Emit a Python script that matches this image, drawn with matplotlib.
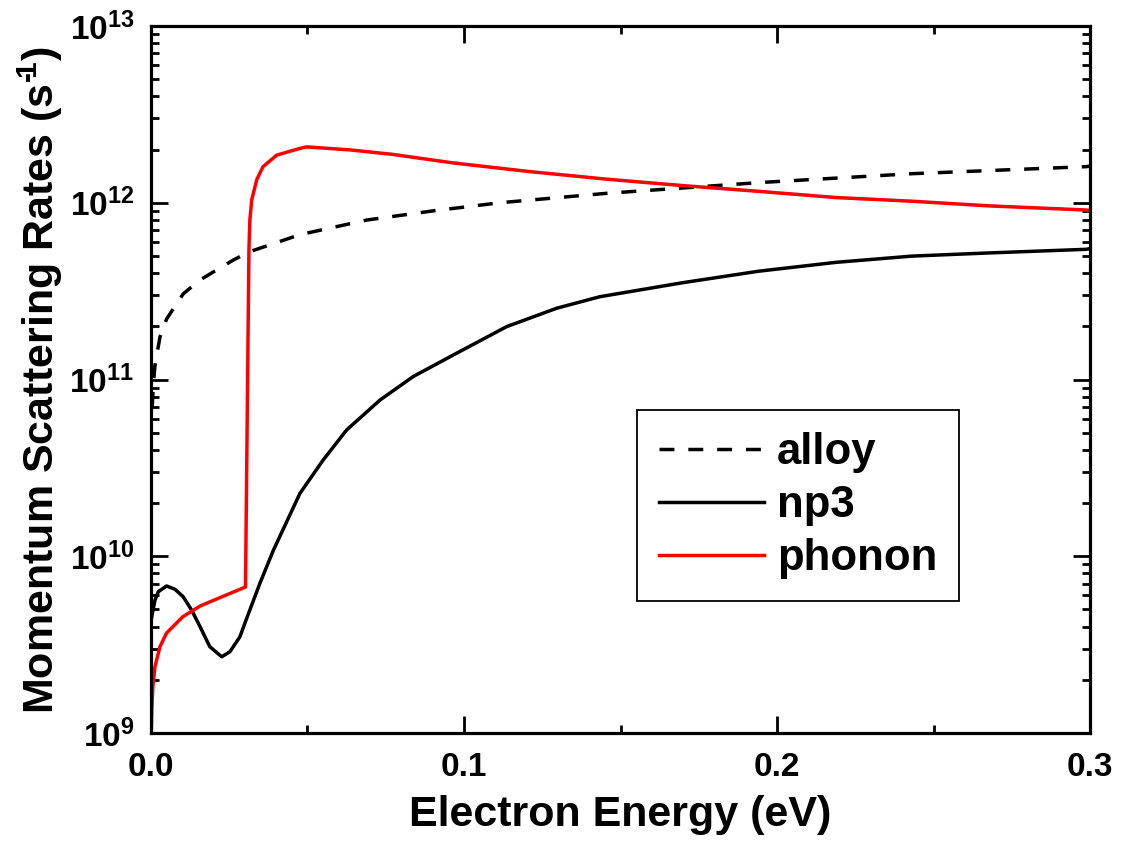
import numpy as np
import matplotlib
matplotlib.use('Agg')
import matplotlib.pyplot as plt
from matplotlib.ticker import MultipleLocator, FixedLocator, FixedFormatter, LogLocator

plt.rcParams['font.family'] = ['Liberation Sans', 'DejaVu Sans']
plt.rcParams['font.weight'] = 'bold'
plt.rcParams['mathtext.default'] = 'regular'

# values (energy in eV, rate in 1/s)
alloy_E = [0.0004, 0.0008, 0.00128, 0.00288, 0.005, 0.0103, 0.0157, 0.0263, 0.0316,
           0.0476, 0.0689, 0.0902, 0.1115, 0.1454, 0.1942, 0.2431, 0.2986, 0.3]
alloy_rate = [7.0e10, 9.5e10, 1.2e11, 1.74e11, 2.2e11, 3.05e11, 3.66e11, 4.74e11, 5.29e11,
              6.6e11, 7.98e11, 9.0e11, 1.0e12, 1.13e12, 1.30e12, 1.46e12, 1.60e12, 1.61e12]

np3_E = [0.0002, 0.00128, 0.00234, 0.005, 0.0077, 0.0103, 0.013, 0.0157, 0.0188, 0.0226,
         0.0252, 0.0263, 0.0284, 0.0306, 0.0348, 0.0391, 0.0476, 0.055, 0.0625, 0.0732,
         0.0838, 0.0977, 0.1136, 0.1296, 0.1434, 0.1699, 0.1942, 0.2188, 0.2431, 0.2677,
         0.2986, 0.3]
np3_rate = [4.5e9, 5.65e9, 6.3e9, 6.79e9, 6.5e9, 5.9e9, 4.96e9, 3.99e9, 3.08e9, 2.7e9,
            2.88e9, 3.08e9, 3.5e9, 4.46e9, 7.03e9, 1.08e10, 2.27e10, 3.5e10, 5.18e10, 7.66e10,
            1.04e11, 1.41e11, 1.99e11, 2.53e11, 2.94e11, 3.53e11, 4.1e11, 4.6e11, 4.99e11, 5.2e11,
            5.45e11, 5.5e11]

phonon_E = [0.0, 0.0003, 0.0006, 0.00128, 0.00288, 0.005, 0.0102, 0.0157, 0.022, 0.0302,
            0.0313, 0.0316, 0.0322, 0.0338, 0.0358, 0.0402, 0.0476, 0.0497, 0.0636, 0.0769,
            0.0965, 0.121, 0.1454, 0.1699, 0.1942, 0.2188, 0.2431, 0.2677, 0.2986, 0.3]
phonon_rate = [8e8, 1.4e9, 1.83e9, 2.37e9, 3.08e9, 3.68e9, 4.55e9, 5.23e9, 5.83e9, 6.7e9,
               5.4e11, 8.0e11, 1.04e12, 1.35e12, 1.6e12, 1.86e12, 2.03e12, 2.07e12, 1.99e12, 1.88e12,
               1.68e12, 1.50e12, 1.36e12, 1.25e12, 1.16e12, 1.07e12, 1.02e12, 9.6e11, 9.1e11, 9.05e11]

x_ticks = [0.0, 0.1, 0.2, 0.3]
x_tick_labels = ['0.0', '0.1', '0.2', '0.3']

fig = plt.figure(figsize=(11.24, 8.49), dpi=100)
ax = fig.add_axes([0.1343, 0.1366, 0.8355, 0.8328])

ax.plot(alloy_E, alloy_rate, color='k', lw=2.5, linestyle=(0, (4.3, 4)), label='alloy')
ax.plot(np3_E, np3_rate, color='k', lw=2.5, label='np3')
ax.plot(phonon_E, phonon_rate, color='#ff0000', lw=2.5, label='phonon')

ax.set_yscale('log')
ax.set_xlim(0, 0.3)
ax.set_ylim(1e9, 1e13)

ax.xaxis.set_major_locator(FixedLocator(x_ticks))
ax.xaxis.set_major_formatter(FixedFormatter(x_tick_labels))
ax.xaxis.set_minor_locator(MultipleLocator(0.05))
ax.yaxis.set_major_locator(LogLocator(base=10, numticks=10))
ax.yaxis.set_minor_locator(LogLocator(base=10, subs=np.arange(2, 10), numticks=20))

ax.tick_params(which='both', direction='in', top=True, right=True, width=2)
ax.tick_params(which='major', length=12, labelsize=24, pad=12)
ax.tick_params(axis='x', which='major', pad=14)
ax.tick_params(which='minor', length=6)
for s in ax.spines.values():
    s.set_linewidth(2.3)

ax.set_xlabel('Electron Energy (eV)', fontsize=31, fontweight='bold', labelpad=8)
ax.set_ylabel('Momentum Scattering Rates (s$^{\u2010\\!1}$)', fontsize=31, fontweight='bold', labelpad=3)

leg = ax.legend(loc='upper left', bbox_to_anchor=(0.5176, 0.4569), borderaxespad=0,
                fontsize=31.5, handlelength=2.4, handletextpad=0.3, labelspacing=0.28,
                borderpad=0.5, fancybox=False, framealpha=1, edgecolor='k')
leg.get_frame().set_linewidth(1.3)

fig.savefig('out.png', dpi=100)
